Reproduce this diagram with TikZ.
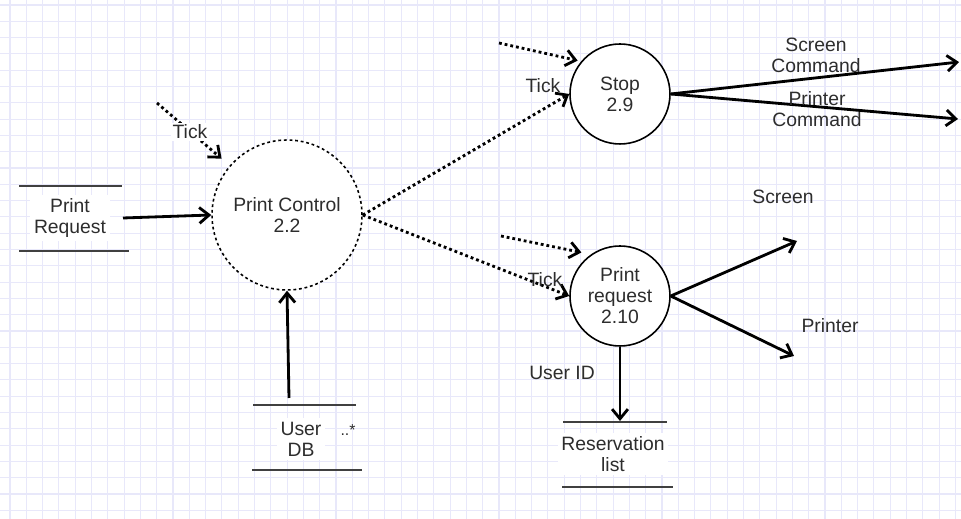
\documentclass[tikz,border=0pt]{standalone}
\usepackage{fontspec}
\setmainfont{Liberation Sans}
\usetikzlibrary{arrows.meta}

\definecolor{gridcol}{RGB}{232,232,250}
\definecolor{txt}{RGB}{45,45,45}

\tikzset{
  process/.style={draw,circle,fill=white,line width=0.9pt,minimum size=2cm,align=center,inner sep=1pt,text=txt},
  store/.style={fill=white,align=center,inner sep=2pt,text=txt},
  storeline/.style={line width=0.9pt,draw=black!75},
  flow/.style={-{Straight Barb[length=5.5pt,width=9pt]},line width=1.6pt},
  tick/.style={-{Straight Barb[length=5.5pt,width=9pt]},line width=1.6pt,dash pattern=on 1.6pt off 1.7pt},
  lbl/.style={align=center,inner sep=1pt,text=txt},
  gridline/.style={draw=gridcol,line width=0.6pt}
}

\begin{document}
\begin{tikzpicture}[x=0.02cm,y=-0.02cm,font=\fontsize{11}{12}\selectfont]
            \useasboundingbox (0,0) rectangle (961,519);
            \fill[white] (0,0) rectangle (961,519);

            % grid
            \foreach \k in {0,...,58} \draw[gridline] ({10+16.3*\k},0) -- ({10+16.3*\k},519);
            \foreach \k in {0,...,31} \draw[gridline] (0,{5+16.3*\k}) -- (961,{5+16.3*\k});

            \node[process,dash pattern=on 1.6pt off 1.6pt,minimum size=3cm] (Print Control) at (287,215) {Print Control\\2.2};
            \node[process] (Stop) at (620,94) {Stop\\2.9};
            \node[process] (Print request) at (620,296) {Print\\request\\2.10};

            % stores
            \node[store] (Print Request) at (70,218) {Print\\Request};
            \draw[storeline] (19,186) -- (122,186);
            \draw[storeline] (19,251) -- (129,251);

            \node[store] (User DB) at (301,439) {User\\DB};
            \node[lbl,font=\small] (User mark) at (348,430) {..*};
            \draw[storeline] (253,405) -- (356,405);
            \draw[storeline] (252,470) -- (362,470);

            \node[store] (Reservation list) at (613,454) {Reservation\\list};
            \draw[storeline] (563,422) -- (667,422);
            \draw[storeline] (562,487) -- (673,487);

            % free ends
            \coordinate (Request out) at (123,218);
            \coordinate (DB out) at (289,398);
            \coordinate (List in) at (620,421);
            \coordinate (Tick a) at (157,103);
            \coordinate (Tick b) at (499,43);
            \coordinate (Tick c) at (501,236);
            \coordinate (Screen Command) at (959,62);
            \coordinate (Printer Command) at (958,119);
            \coordinate (Screen) at (797,241);
            \coordinate (Printer) at (794,356);

            \draw[flow] (Request out) to (Print Control.west);
            \draw[flow] (DB out) to (Print Control.south);
            \draw[flow] (Print request.south) to (List in);

            \draw[tick,shorten >=6pt] (Tick a) to (Print Control);
            \draw[tick,shorten >=2pt] (Tick b) to (Stop.140);
            \draw[tick,shorten >=5.5pt] (Tick c) to (Print request.125);
            \draw[tick] (Print Control.east) to (Stop.west);
            \draw[tick] (Print Control.east) to (Print request.west);

            \draw[flow] (Stop.east) to (Screen Command);
            \draw[flow] (Stop.east) to (Printer Command);
            \draw[flow] (Print request.east) to (Screen);
            \draw[flow] (Print request.east) to (Printer);

            % labels
            \node[lbl,fill=white] (Tick label a) at (190,132) {Tick};
            \node[lbl] (Tick label b) at (543,86) {Tick};
            \node[lbl] (Tick label c) at (545,280) {Tick};
            \node[lbl] (Screen Command label) at (816,55) {Screen\\Command};
            \node[lbl] (Printer Command label) at (817,109) {Printer\\Command};
            \node[lbl] (Screen label) at (783,197) {Screen};
            \node[lbl] (Printer label) at (830,326) {Printer};
            \node[lbl] (User ID label) at (562,373) {User ID};
        \end{tikzpicture}
\end{document}
